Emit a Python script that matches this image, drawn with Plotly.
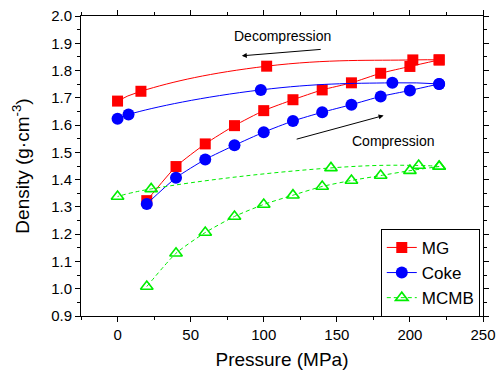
import plotly.graph_objects as go

# Compression / decompression data (Pressure MPa, Density g/cm3)
mg_comp_x = [20, 40, 60, 80, 100, 120, 140, 160, 180, 200, 220]
mg_comp_y = [1.323, 1.448, 1.531, 1.598, 1.653, 1.693, 1.729, 1.755, 1.790, 1.815, 1.839]
mg_dec_x = [220, 202, 102, 16, 0]
mg_dec_y = [1.839, 1.839, 1.816, 1.724, 1.688]

coke_comp_x = [20, 40, 60, 80, 100, 120, 140, 160, 180, 200, 220]
coke_comp_y = [1.311, 1.407, 1.474, 1.526, 1.574, 1.615, 1.647, 1.675, 1.705, 1.727, 1.751]
coke_dec_x = [220, 188, 98, 7.5, 0]
coke_dec_y = [1.751, 1.755, 1.729, 1.639, 1.623]

mcmb_comp_x = [20, 40, 60, 80, 100, 120, 140, 160, 180, 200, 220]
mcmb_comp_y = [1.008, 1.130, 1.206, 1.265, 1.309, 1.343, 1.375, 1.397, 1.415, 1.433, 1.448]
mcmb_dec_x = [220, 206, 146, 23, 0]
mcmb_dec_y = [1.448, 1.452, 1.443, 1.366, 1.338]

series = [
    ("MG", mg_comp_x, mg_comp_y, mg_dec_x, mg_dec_y, "#ff0000", "square", "solid"),
    ("Coke", coke_comp_x, coke_comp_y, coke_dec_x, coke_dec_y, "#0000ff", "circle", "solid"),
    ("MCMB", mcmb_comp_x, mcmb_comp_y, mcmb_dec_x, mcmb_dec_y, "#00ee00", "triangle-up-open", "dash"),
]

fig = go.Figure()
for name, cx, cy, dx, dy, col, sym, dash in series:
    open_marker = sym.endswith("open")
    marker = dict(symbol=sym, size=11 if sym != "circle" else 12, color=col,
                  line=dict(color=col, width=1.6 if open_marker else 0))
    dash_style = "4px,3px" if dash == "dash" else "solid"
    fig.add_trace(go.Scatter(x=cx, y=cy, mode="lines+markers", name=name, legendgroup=name,
                             line=dict(color=col, width=1, shape="spline", smoothing=0.6,
                                       dash=dash_style),
                             marker=marker))
    fig.add_trace(go.Scatter(x=dx, y=dy, mode="lines+markers", name=name, legendgroup=name,
                             showlegend=False,
                             line=dict(color=col, width=1, shape="spline", smoothing=1.3,
                                       dash=dash_style),
                             marker=marker))

font_family = "Liberation Sans, Arial, sans-serif"

fig.add_annotation(x=85, y=1.854, ax=140, ay=1.878, xref="x", yref="y", axref="x", ayref="y",
                   text="", showarrow=True, arrowhead=2, arrowsize=1, arrowwidth=1, arrowcolor="black")
fig.add_annotation(x=182, y=1.635, ax=121.5, ay=1.547, xref="x", yref="y", axref="x", ayref="y",
                   text="", showarrow=True, arrowhead=2, arrowsize=1, arrowwidth=1, arrowcolor="black")
fig.add_annotation(x=113, y=1.928, text="Decompression", showarrow=False,
                   font=dict(size=14, color="black", family=font_family))
fig.add_annotation(x=188.5, y=1.543, text="Compression", showarrow=False,
                   font=dict(size=14, color="black", family=font_family))

axis_common = dict(showline=True, linecolor="black", linewidth=1, mirror="ticks",
                   ticks="outside", ticklen=5, tickwidth=1, tickcolor="black",
                   showgrid=False, zeroline=False, automargin=False,
                   tickfont=dict(size=15, color="black", family=font_family))

fig.update_xaxes(range=[-25, 250], dtick=50, tick0=0,
                 minor=dict(dtick=25, tick0=0, ticks="outside", ticklen=3, tickcolor="black"),
                 title=dict(text="Pressure (MPa)", font=dict(size=19, color="black", family=font_family),
                            standoff=10),
                 **axis_common)
fig.update_yaxes(range=[0.9, 2.0], dtick=0.1, tick0=0.9, tickformat=".1f",
                 minor=dict(dtick=0.05, tick0=0.9, ticks="outside", ticklen=3, tickcolor="black"),
                 title=dict(text="Density (g·cm<sup>-3</sup>)",
                            font=dict(size=19, color="black", family=font_family), standoff=16),
                 **axis_common)

fig.update_layout(
    width=500, height=374,
    margin=dict(l=81, r=17, t=16, b=58, autoexpand=False),
    plot_bgcolor="white", paper_bgcolor="white",
    legend=dict(x=0.992, y=-0.003, xanchor="right", yanchor="bottom",
                bordercolor="black", borderwidth=1, bgcolor="white",
                font=dict(size=17, color="black", family=font_family),
                tracegroupgap=0, itemwidth=30, entrywidth=70),
)

fig.write_html("out.html", config={"displayModeBar": False},
               post_script="document.body.style.margin='0';document.body.style.overflow='hidden';")
